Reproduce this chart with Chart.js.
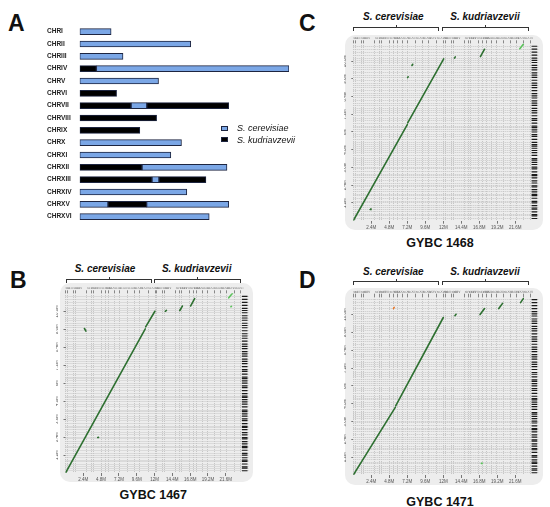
<!DOCTYPE html>
<html><head><meta charset="utf-8">
<script src="https://cdn.jsdelivr.net/npm/chart.js@4.4.1/dist/chart.umd.min.js"></script>
<style>
html,body{margin:0;padding:0;background:#fff}
body{position:relative;width:550px;height:507px;overflow:hidden;font-family:"Liberation Sans",Arial,sans-serif;color:#111}
.a{position:absolute;white-space:nowrap}
.lt{font-weight:bold;font-size:23px;line-height:23px}
.sp{font-weight:bold;font-style:italic;font-size:10px;line-height:12px;transform:translateX(-50%)}
.gy{font-weight:bold;font-size:12.5px;line-height:14px;transform:translateX(-50%)}
.br{position:absolute;height:4px;border:1px solid #333;border-bottom:none;box-sizing:border-box}
.br::after{content:"";position:absolute;left:50%;top:-3px;height:3px;border-left:1px solid #333}
.box{position:absolute;background:#ededed;border-radius:10px}
canvas{position:absolute}
.lg{font-style:italic;font-size:9px;line-height:11px}
.sq{position:absolute;width:7px;height:5px;border:1px solid #1d2540;box-sizing:border-box}
</style></head>
<body>
<div class="a lt" style="left:8px;top:12px">A</div>
<div class="a lt" style="left:10px;top:269px">B</div>
<div class="a lt" style="left:299px;top:12px">C</div>
<div class="a lt" style="left:299px;top:269px">D</div>

<canvas id="cA" width="300" height="240" style="left:0;top:0"></canvas>
<div class="sq" style="left:221px;top:126px;background:#7ba7e6"></div>
<div class="sq" style="left:221px;top:137px;background:#000"></div>
<div class="a lg" id="lg0" style="left:237px;top:123.4px"></div>
<div class="a lg" id="lg1" style="left:237px;top:134.6px"></div>

<!-- B -->
<div class="a sp" style="left:105px;top:263px">S. cerevisiae</div>
<div class="a sp" style="left:196.7px;top:263px">S. kudriavzevii</div>
<div class="br" style="left:65.7px;top:279px;width:86px"></div>
<div class="br" style="left:154.3px;top:279px;width:86.4px"></div>
<div class="box" style="left:60px;top:283px;width:193px;height:199px"></div>
<canvas id="cB" width="198" height="200" style="left:56px;top:283px"></canvas>
<div class="a gy" style="left:153.3px;top:487.5px">GYBC 1467</div>

<!-- C -->
<div class="a sp" style="left:393.3px;top:11px">S. cerevisiae</div>
<div class="a sp" style="left:485px;top:11px">S. kudriavzevii</div>
<div class="br" style="left:353.3px;top:26.7px;width:86px"></div>
<div class="br" style="left:442px;top:26.7px;width:86.7px"></div>
<div class="box" style="left:345px;top:35px;width:198px;height:195px"></div>
<canvas id="cC" width="200" height="198" style="left:344px;top:33px"></canvas>
<div class="a gy" style="left:440px;top:235.9px">GYBC 1468</div>

<!-- D -->
<div class="a sp" style="left:393.3px;top:265.8px">S. cerevisiae</div>
<div class="a sp" style="left:485px;top:265.8px">S. kudriavzevii</div>
<div class="br" style="left:353.3px;top:281px;width:86px"></div>
<div class="br" style="left:442px;top:281px;width:86.7px"></div>
<div class="box" style="left:345px;top:288px;width:198px;height:197px"></div>
<canvas id="cD" width="200" height="200" style="left:344px;top:286px"></canvas>
<div class="a gy" style="left:440px;top:494.9px">GYBC 1471</div>

<script>
// ---------------- Panel A data ----------------
const chrNames = ['CHRI','CHRII','CHRIII','CHRIV','CHRV','CHRVI','CHRVII','CHRVIII','CHRIX','CHRX','CHRXI','CHRXII','CHRXIII','CHRXIV','CHRXV','CHRXVI'];
// segment lengths in kb (left to right) and their species origin (c = S. cerevisiae, k = S. kudriavzevii)
const seg1Kb = [230,813,317,122,577,270,376,563,440,745,667,456,529,784,207,948];
const seg1Sp = ['c','c','c','k','c','k','k','k','k','c','c','k','k','c','c','c'];
const seg2Kb = [null,null,null,1410,null,null,115,null,null,null,null,622,51,null,283,null];
const seg2Sp = ['c','c','c','c','c','c','c','c','c','c','c','c','c','c','k','c'];
const seg3Kb = [null,null,null,null,null,null,600,null,null,null,null,null,344,null,601,null];
const seg3Sp = ['k','k','k','k','k','k','k','k','k','k','k','k','k','k','c','k'];
const legendNames = ['S. cerevisiae','S. kudriavzevii'];

// ---------------- Dot plot data ----------------
const scChrMb = [0.230,0.813,0.317,1.532,0.577,0.270,1.091,0.563,0.440,0.745,0.667,1.078,0.924,0.784,1.091,0.948];
const skChrMb = [0.21,0.80,0.31,1.47,0.56,0.27,1.06,0.54,0.42,0.73,0.64,0.97,0.89,0.76,1.04,0.83];
const chrRoman = ['I','II','III','IV','V','VI','VII','VIII','IX','X','XI','XII','XIII','XIV','XV','XVI'];
const contigEndsMb = [0.15,0.32,0.41,0.6,0.78,0.86,1.02,1.2,1.31,1.52,1.7,1.78,1.95,2.1,2.28,2.36,2.55,2.7,2.9,3.05,3.12,3.3,3.5,3.62,3.8,3.95,4.1,4.2,4.42,4.6,4.75,4.9,5.05,5.14,5.3,5.5,5.7,5.82,6.0,6.15,6.3,6.4,6.6,6.78,6.9,7.1,7.3,7.45,7.6,7.8,7.95,8.1,8.3,8.45,8.6,8.8,9.0,9.15,9.3,9.5,9.7,9.85,10.0,10.2,10.35,10.5,10.7,10.85,11.0,11.2,11.4,11.6,11.8];
const xTickMb = [2.4,4.8,7.2,9.6,12,14.4,16.8,19.2,21.6];
const xTickText = ['2.4M','4.8M','7.2M','9.6M','12M','14.4M','16.8M','19.2M','21.6M'];
const yTickMb = [1.2,2.4,3.6,4.8,6,7.2,8.4,9.6,10.8];
const yTickText = ['1.2M','2.4M','3.6M','4.8M','6M','7.2M','8.4M','9.6M','10.8M'];
// alignments: [refStart, queryStart, refEnd, queryEnd] in Mb
const gybc1467Main = [[0,0,10.75,9.62],[10.8,9.76,12.05,10.8],[2.55,9.65,2.75,9.48],[4.35,2.37,4.45,2.38],[13.45,10.8,13.6,10.86],[15.4,10.85,15.75,11.15],[16.85,11.15,17.4,11.65]];
const gybc1467Light = [[22.0,11.7,22.5,12.0],[22.28,11.1,22.36,11.13]];
const gybc1468Main = [[0,0,7.2,6.5],[7.25,6.62,12.05,10.95],[7.82,10.5,7.92,10.58],[7.24,9.68,7.32,9.73],[2.25,0.76,2.35,0.8],[13.5,11.0,13.6,11.08],[16.95,11.1,17.5,11.6]];
const gybc1468Light = [[22.2,11.63,22.67,11.93]];
const gybc1471Main = [[0,0,5.6,4.55],[5.65,4.65,12.0,10.6],[13.55,10.72,13.7,10.82],[16.9,10.8,17.5,11.2],[19.4,11.2,19.9,11.55],[22.3,11.6,22.67,11.87]];
const gybc1471Light = [[17.08,0.78,17.16,0.8]];
const gybc1471Orange = [[5.35,11.2,5.45,11.28]];

// ---------------- rendering ----------------
Chart.defaults.font.family = '"Liberation Sans", Arial, sans-serif';
document.getElementById('lg0').textContent = legendNames[0];
document.getElementById('lg1').textContent = legendNames[1];

const SPC = {c:'#7ba7e6', k:'#000000'};
new Chart(document.getElementById('cA'), {
  type:'bar',
  data:{labels:chrNames, datasets:[[seg1Kb,seg1Sp],[seg2Kb,seg2Sp],[seg3Kb,seg3Sp]].map(([d,s])=>({
    data:d, backgroundColor:s.map(k=>SPC[k]), borderColor:'#1d2540', borderWidth:1, borderSkipped:false, barThickness:6
  }))},
  options:{
    indexAxis:'y', responsive:false, animation:false,
    layout:{padding:{left:47,right:11,top:25.5,bottom:17.2}},
    plugins:{legend:{display:false}, tooltip:{enabled:false}},
    scales:{
      x:{stacked:true, display:false, min:0, max:1532},
      y:{stacked:true, grid:{display:false}, border:{display:false},
         ticks:{crossAlign:'far', autoSkip:false, padding:0, color:'#222', font:{weight:'bold', size:6.5}},
         afterFit(s){ s.width = 32.7; }}
    }
  }
});

function cumulative(lens){ const out=[0]; lens.forEach(l=>out.push(+(out[out.length-1]+l).toFixed(3))); return out; }
const refBounds = cumulative(scChrMb.concat(skChrMb));
const refNames = chrRoman.map(r=>'sc'+r).concat(chrRoman.map(r=>'sk'+r));

function dotPlot(id, cv, area, groups){
  const X_MAX = 24.7, Y_MAX = 12, STRIP_X = 24.15;
  const datasets = [];
  groups.forEach(g=>g.segs.forEach(s=>datasets.push({
    data:[{x:s[0],y:s[1]},{x:s[2],y:s[3]}], showLine:true, borderColor:g.color, borderWidth:1.6,
    borderCapStyle:'round', pointRadius:0, xAxisID:'x', yAxisID:'y'
  })));
  datasets.push({data:contigEndsMb.map(v=>({x:STRIP_X,y:v})), showLine:false, pointStyle:'line',
    pointRadius:2.8, borderColor:'#1a1a1a', borderWidth:1.2, xAxisID:'x', yAxisID:'y'});
  const yAxisW = area.l - cv.left, xAxisH = cv.top + cv.h - area.b, topH = 6;
  const gridCol = '#c6c6c6';
  new Chart(document.getElementById(id), {
    type:'scatter', data:{datasets},
    options:{
      responsive:false, animation:false,
      layout:{padding:{left:0, right:cv.left+cv.w-area.r, top:area.t-cv.top-topH, bottom:0}},
      plugins:{legend:{display:false}, tooltip:{enabled:false}},
      scales:{
        x:{type:'linear', position:'bottom', min:0, max:X_MAX, bounds:'data',
           afterBuildTicks(s){ s.ticks = xTickMb.map(v=>({value:v})); },
           ticks:{callback:(v,i)=>xTickText[i], autoSkip:false, minRotation:0, maxRotation:0, padding:1, color:'#555', font:{size:4.5}},
           grid:{drawOnChartArea:false, tickLength:3, color:'#777'}, border:{display:false},
           afterFit(s){ s.height = xAxisH; s.paddingLeft = 0; s.paddingRight = 0; }},
        xg:{type:'linear', axis:'x', position:'top', min:0, max:X_MAX, bounds:'data',
           afterBuildTicks(s){ s.ticks = refBounds.map(v=>({value:v})); },
           ticks:{callback:(v,i)=>refNames[i]||'', autoSkip:false, minRotation:0, maxRotation:0, align:'start', padding:0, color:'#777', font:{size:3.5}},
           grid:{color:gridCol, lineWidth:1, tickLength:3, tickColor:'#888'}, border:{display:false, dash:[1,1]},
           afterFit(s){ s.height = topH; s.paddingLeft = 0; s.paddingRight = 0; }},
        y:{type:'linear', position:'left', min:0, max:Y_MAX, bounds:'data',
           afterBuildTicks(s){ s.ticks = yTickMb.map(v=>({value:v})); },
           ticks:{callback:(v,i)=>yTickText[i], autoSkip:false, minRotation:90, maxRotation:90, crossAlign:'center', padding:0, color:'#555', font:{size:4.5}},
           grid:{drawOnChartArea:false, tickLength:2, color:'#777'}, border:{display:false},
           afterFit(s){ s.width = yAxisW; s.paddingTop = 0; s.paddingBottom = 0; }},
        yg:{type:'linear', axis:'y', position:'right', min:0, max:Y_MAX, bounds:'data',
           afterBuildTicks(s){ s.ticks = contigEndsMb.map(v=>({value:v})); },
           ticks:{display:false, autoSkip:false},
           grid:{color:gridCol, lineWidth:1, drawTicks:false}, border:{display:false, dash:[1,1]},
           afterFit(s){ s.width = 0; s.paddingTop = 0; s.paddingBottom = 0; }}
      }
    }
  });
}

const DARK = '#2e7031', LIGHT = '#5cc25c', ORANGE = '#e8782a';
dotPlot('cB', {left:56, top:283, w:198, h:200}, {l:65.5, t:293.3, r:250.75, b:473},
  [{segs:gybc1467Main, color:DARK},{segs:gybc1467Light, color:LIGHT}]);
dotPlot('cC', {left:344, top:33, w:200, h:198}, {l:353.3, t:43.3, r:538.55, b:220.7},
  [{segs:gybc1468Main, color:DARK},{segs:gybc1468Light, color:LIGHT}]);
dotPlot('cD', {left:344, top:286, w:200, h:200}, {l:353.3, t:296.7, r:538.55, b:475},
  [{segs:gybc1471Main, color:DARK},{segs:gybc1471Light, color:LIGHT},{segs:gybc1471Orange, color:ORANGE}]);
</script>
</body></html>
